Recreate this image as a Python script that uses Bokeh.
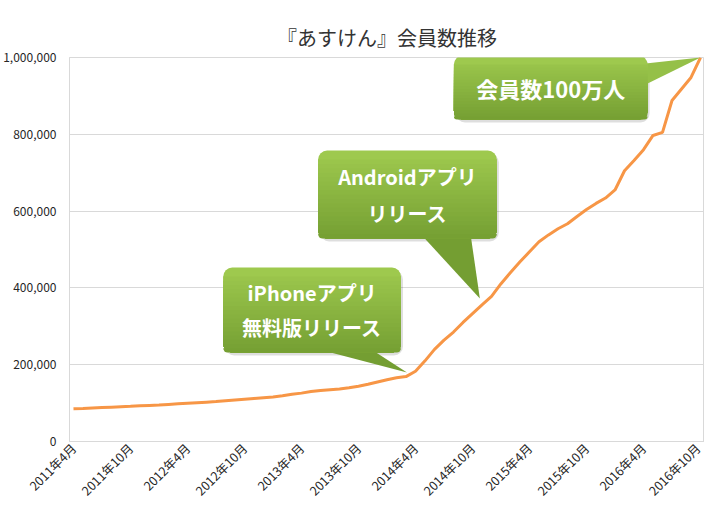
import math
from bokeh.plotting import figure
from bokeh.models import (Range1d, FixedTicker, NumeralTickFormatter, BoxAnnotation,
                          PolyAnnotation, Label)
from bokeh.embed import file_html
from bokeh.resources import INLINE

# ---------------- data ----------------
# monthly members, April 2011 .. October 2016 (67 months)
members = [
    85000, 86000, 87500, 88500, 89500, 90500,          # 2011/4 - 2011/9
    91500, 93000, 94000, 95000, 96500, 98000,          # 2011/10 - 2012/3
    99500, 101000, 102500, 104000, 106000, 108000,     # 2012/4 - 2012/9
    110000, 112000, 114000, 116000, 119000, 123000,    # 2012/10 - 2013/3
    126000, 130000, 133000, 135000, 137000, 140000,    # 2013/4 - 2013/9
    144000, 149000, 155000, 161000, 166000, 169000,    # 2013/10 - 2014/3
    183000, 210000, 240000, 264000, 285000, 310000,    # 2014/4 - 2014/9
    333000, 356000, 378000, 411000, 440000, 468000,    # 2014/10 - 2015/3
    494000, 520000, 538000, 554000, 567000, 586000,    # 2015/4 - 2015/9
    604000, 620000, 634000, 655000, 705000, 732000,    # 2015/10 - 2016/3
    760000, 797000, 805000, 888000, 918000, 948000,    # 2016/4 - 2016/9
    1000000,                                            # 2016/10
]
month_index = list(range(len(members)))

tick_positions = [0, 6, 12, 18, 24, 30, 36, 42, 48, 54, 60, 66]
tick_labels = ["2011年4月", "2011年10月", "2012年4月", "2012年10月",
               "2013年4月", "2013年10月", "2014年4月", "2014年10月",
               "2015年4月", "2015年10月", "2016年4月", "2016年10月"]
y_ticks = [0, 200000, 400000, 600000, 800000, 1000000]

title_text = "『あすけん』会員数推移"
callout_texts = [
    ["iPhoneアプリ", "無料版リリース"],
    ["Androidアプリ", "リリース"],
    ["会員数100万人"],
]

FONT = "Noto Sans CJK JP"

# ---------------- figure ----------------
X0, X1 = -0.42, 66.42
p = figure(width=704, height=509, output_backend="svg", toolbar_location=None,
           x_range=Range1d(X0, X1), y_range=Range1d(0, 1000000))
p.min_border_left = 68
p.min_border_right = 0
p.min_border_top = 57
p.min_border_bottom = 68
p.background_fill_color = "white"
p.border_fill_color = "white"
p.outline_line_color = "#D9D9D9"

p.title.text = title_text
p.title.align = "center"
p.title.offset = 6
p.title.vertical_align = "middle"
p.title.text_font = FONT
p.title.text_font_size = "20px"
p.title.text_font_style = "normal"
p.title.text_color = "#333333"
p.title.standoff = 10

p.xgrid.visible = False
p.ygrid.grid_line_color = "#D9D9D9"
p.ygrid.grid_line_width = 1

for ax in (p.xaxis[0], p.yaxis[0]):
    ax.axis_line_color = "#D9D9D9"
    ax.major_tick_line_color = None
    ax.minor_tick_line_color = None
    ax.major_tick_out = 0
    ax.major_tick_in = 0
    ax.minor_tick_out = 0
    ax.minor_tick_in = 0
    ax.major_label_text_font = FONT
    ax.major_label_text_color = "#262626"

p.xaxis.major_label_text_font_size = "12.5px"
p.yaxis.major_label_text_font_size = "12px"
p.xaxis.ticker = FixedTicker(ticks=tick_positions)
p.xaxis.major_label_overrides = {t: l for t, l in zip(tick_positions, tick_labels)}
p.xaxis.major_label_orientation = math.pi / 4
p.xaxis.major_label_standoff = 4
p.yaxis.ticker = FixedTicker(ticks=y_ticks)
p.yaxis.formatter = NumeralTickFormatter(format="0,0")
p.yaxis.major_label_standoff = 13

p.line(month_index, members, line_color="#F79646", line_width=3)

# ---------------- annotations (positions in screen px of the picture) ----------------
PX_PER_X = 636.0 / (X1 - X0)
LEFT_PX, BOTTOM_PX, PLOT_H = 68.0, 441.0, 384.0


def dx(px):
    return X0 + (px - LEFT_PX) / PX_PER_X


def dy(py):
    return (BOTTOM_PX - py) / PLOT_H * 1000000


C_TOP = (158, 201, 78)
C_BOT = (116, 158, 50)


def mix(f):
    f = max(0.0, min(1.0, f))
    return "#%02x%02x%02x" % tuple(int(round(a + (b - a) * f)) for a, b in zip(C_TOP, C_BOT))


def callout(l, r, t, b, pointer, lines, fsize, line_gap, rad=9):
    # shadow
    p.add_layout(BoxAnnotation(left=dx(l + 2), right=dx(r + 2), top=dy(t + 3), bottom=dy(b + 3),
                               fill_color="black", fill_alpha=0.13, line_color=None,
                               border_radius=rad, level="annotation"))
    # pointer
    pys = [q[1] for q in pointer]
    pf = ((sum(pys) / 3.0) - t) / (b - t)
    p.add_layout(PolyAnnotation(xs=[dx(q[0]) for q in pointer], ys=[dy(q[1]) for q in pointer],
                                fill_color=mix(min(pf, 1.08)), fill_alpha=1.0, line_color=None,
                                level="annotation"))
    # box base
    p.add_layout(BoxAnnotation(left=dx(l), right=dx(r), top=dy(t), bottom=dy(b),
                               fill_color=mix(0.0), fill_alpha=1.0, line_color=None,
                               border_radius=rad, level="annotation"))
    n = 18
    start = t + rad
    for k in range(n):
        yt = start + (b - start) * k / n
        p.add_layout(BoxAnnotation(left=dx(l), right=dx(r), top=dy(yt), bottom=dy(b),
                                   fill_color=mix((yt - t) / (b - t)), fill_alpha=1.0, line_color=None,
                                   border_radius=dict(top_left=0, top_right=0,
                                                      bottom_right=rad, bottom_left=rad),
                                   level="annotation"))
    cx = (l + r) / 2.0
    cy = (t + b) / 2.0
    m = len(lines)
    for i, s in enumerate(lines):
        yy = cy + (i - (m - 1) / 2.0) * line_gap
        p.add_layout(Label(x=dx(cx), y=dy(yy), text=s, text_align="center",
                           text_baseline="middle", text_color="white", text_font=FONT,
                           text_font_style="bold", text_font_size=fsize))


callout(222, 400, 267, 352, [(322, 350), (372, 350), (406, 372)], callout_texts[0], "20px", 35)
callout(317, 496, 150, 238, [(422, 236), (470, 236), (479, 298)], callout_texts[1], "20px", 37)
callout(453, 647, 55, 119, [(645, 63), (645, 84), (700, 57)], callout_texts[2], "22px", 0)

open("out.html", "w").write(file_html(p, INLINE))
